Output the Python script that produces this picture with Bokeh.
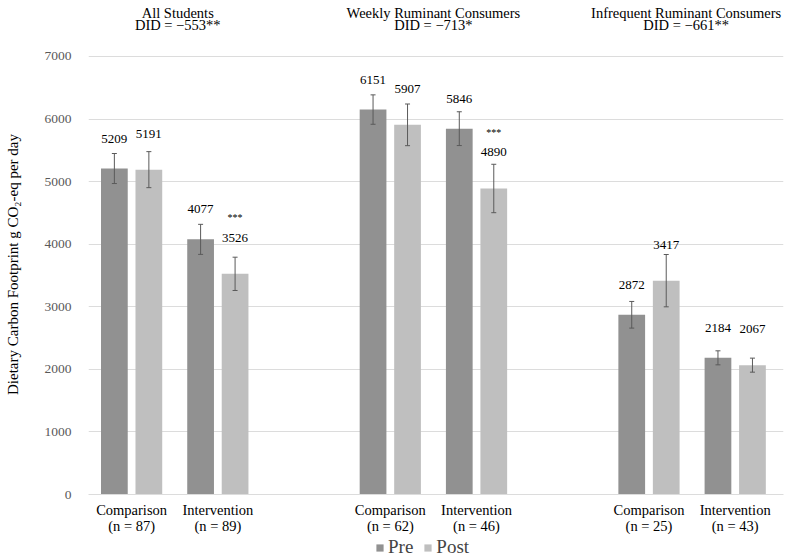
from bokeh.plotting import figure
from bokeh.layouts import column
from bokeh.models import (ColumnDataSource, Whisker, TeeHead, Label, Legend,
                          LegendItem, FixedTicker, Range1d)
from bokeh.embed import file_html
from bokeh.resources import INLINE
from bokeh.core.properties import value

# ---------------- data ----------------
groups = ["All Students", "Weekly Ruminant Consumers", "Infrequent Ruminant Consumers"]
did_labels = ["DID = \u2212553**", "DID = \u2212713*", "DID = \u2212661**"]
conditions = ["Comparison", "Intervention"]
n_sizes = [87, 89, 62, 46, 25, 43]
pre_values = [5209, 4077, 6151, 5846, 2872, 2184]
post_values = [5191, 3526, 5907, 4890, 3417, 2067]
pre_err = [240, 240, 235, 270, 213, 112]
post_err = [288, 266, 333, 387, 418, 112]
post_sig = ["", "***", "", "***", "", ""]
y_ticks = [0, 1000, 2000, 3000, 4000, 5000, 6000, 7000]
series_names = ["Pre", "Post"]

# ---------------- styling ----------------
FONT = "Liberation Serif"
PRE_COLOR = "#919191"
POST_COLOR = "#bfbfbf"
ERR_COLOR = "#5a5a5a"
GRID_COLOR = "#dcdcdc"
DODGE = 0.2
BAR_W = 0.31
Y_TOP = 7830   # headroom above the 7000 gridline for the group titles
X_END = 7.56   # a little room on the right for the last title
TITLE_SHIFT = [3, 0, -6]

# slot positions: two conditions per group, one empty slot between groups
x_pos = [g * 3 + c for g in range(len(groups)) for c in range(len(conditions))]
tick_text = {x_pos[i]: f"{conditions[i % 2]}\n(n = {n_sizes[i]})" for i in range(len(x_pos))}

src = ColumnDataSource(dict(
    xpre=[x - DODGE for x in x_pos],
    xpost=[x + DODGE for x in x_pos],
    pre=pre_values,
    post=post_values,
    pre_hi=[v + e for v, e in zip(pre_values, pre_err)],
    pre_lo=[v - e for v, e in zip(pre_values, pre_err)],
    post_hi=[v + e for v, e in zip(post_values, post_err)],
    post_lo=[v - e for v, e in zip(post_values, post_err)],
    pre_txt=[str(v) for v in pre_values],
    post_txt=[str(v) for v in post_values],
    sig=post_sig,
))

p = figure(width=795, height=536, output_backend="svg", toolbar_location=None,
           x_range=Range1d(-0.5, X_END), y_range=Range1d(0, Y_TOP),
           min_border_left=88, min_border_right=12, min_border_top=4,
           min_border_bottom=42)
p.outline_line_color = None
p.background_fill_color = "white"
p.border_fill_color = "white"

p.vbar(x="xpre", top="pre", width=BAR_W, source=src,
       fill_color=PRE_COLOR, line_color=None)
p.vbar(x="xpost", top="post", width=BAR_W, source=src,
       fill_color=POST_COLOR, line_color=None)

for base, up, lo in (("xpre", "pre_hi", "pre_lo"), ("xpost", "post_hi", "post_lo")):
    w = Whisker(source=src, base=base, upper=up, lower=lo, level="overlay",
                line_color=ERR_COLOR, line_width=1,
                upper_head=TeeHead(size=5, line_color=ERR_COLOR, line_width=1),
                lower_head=TeeHead(size=5, line_color=ERR_COLOR, line_width=1))
    p.add_layout(w)

p.text(x="xpre", y="pre", text="pre_txt", source=src, y_offset=-30,
       text_align="center", text_baseline="middle",
       text_font=value(FONT), text_font_size="13px", text_color="black")
p.text(x="xpost", y="post", text="post_txt", source=src, y_offset=-36,
       text_align="center", text_baseline="middle",
       text_font=value(FONT), text_font_size="13px", text_color="black")
p.text(x="xpost", y="post", text="sig", source=src, y_offset=-56,
       text_align="center", text_baseline="middle",
       text_font=value(FONT), text_font_size="10px", text_color="black")

# group titles above the 7000 line
for g in range(len(groups)):
    cx = (x_pos[2 * g] + x_pos[2 * g + 1]) / 2
    p.add_layout(Label(x=cx, y=y_ticks[-1], text=groups[g], y_offset=43,
                       x_offset=TITLE_SHIFT[g],
                       text_align="center", text_baseline="middle",
                       text_font=FONT, text_font_size="14.5px", text_color="black"))
    p.add_layout(Label(x=cx, y=y_ticks[-1], text=did_labels[g], y_offset=31,
                       x_offset=TITLE_SHIFT[g],
                       text_align="center", text_baseline="middle",
                       text_font=FONT, text_font_size="14.5px", text_color="black"))

# axes
p.yaxis.ticker = FixedTicker(ticks=y_ticks)
p.ygrid.ticker = FixedTicker(ticks=y_ticks)
p.ygrid.grid_line_color = GRID_COLOR
p.xgrid.grid_line_color = None
p.yaxis.axis_line_color = None
p.yaxis.major_tick_line_color = None
p.yaxis.minor_tick_line_color = None
p.yaxis.major_label_standoff = 11
p.yaxis.major_label_text_font = FONT
p.yaxis.major_label_text_font_size = "13.5px"
p.yaxis.major_label_text_color = "#595959"
p.yaxis.axis_label = "Dietary Carbon Footprint g CO\u2082-eq per day" + "\u00a0" * 8
p.yaxis.axis_label_text_font = FONT
p.yaxis.axis_label_text_font_size = "15px"
p.yaxis.axis_label_text_font_style = "normal"
p.yaxis.axis_label_text_color = "black"
p.yaxis.axis_label_standoff = 21

p.xaxis.ticker = FixedTicker(ticks=x_pos)
p.xaxis.major_label_overrides = tick_text
p.xaxis.axis_line_color = GRID_COLOR
p.xaxis.major_tick_line_color = None
p.xaxis.minor_tick_line_color = None
p.xaxis.major_label_standoff = 1
p.xaxis.major_label_text_font = FONT
p.xaxis.major_label_text_font_size = "14.5px"
p.xaxis.major_label_text_color = "black"
p.xaxis.major_label_text_line_height = 1.0

# legend strip below the chart (its renderers are hidden; only swatches show)
lg = figure(width=795, height=22, output_backend="svg", toolbar_location=None,
            x_range=Range1d(-0.5, X_END), y_range=Range1d(0, Y_TOP),
            min_border_left=0, min_border_right=0, min_border_top=0,
            min_border_bottom=0)
lg.axis.visible = False
lg.grid.visible = False
lg.outline_line_color = None
lr_pre = lg.vbar(x="xpre", top="pre", width=BAR_W, source=src,
                 fill_color=PRE_COLOR, line_color=None, visible=False)
lr_post = lg.vbar(x="xpost", top="post", width=BAR_W, source=src,
                  fill_color=POST_COLOR, line_color=None, visible=False)
legend = Legend(items=[LegendItem(label=series_names[0], renderers=[lr_pre]),
                       LegendItem(label=series_names[1], renderers=[lr_post])],
                orientation="horizontal", location=(287, 0),
                border_line_color=None, background_fill_alpha=0,
                inactive_fill_alpha=0,
                label_text_font=FONT, label_text_font_size="19px",
                label_height=20, glyph_width=9, glyph_height=9, spacing=10,
                label_standoff=4, padding=0, margin=0)
lg.add_layout(legend, "center")

layout = column(p, lg, spacing=0)
open("out.html", "w").write(file_html(layout, INLINE))
